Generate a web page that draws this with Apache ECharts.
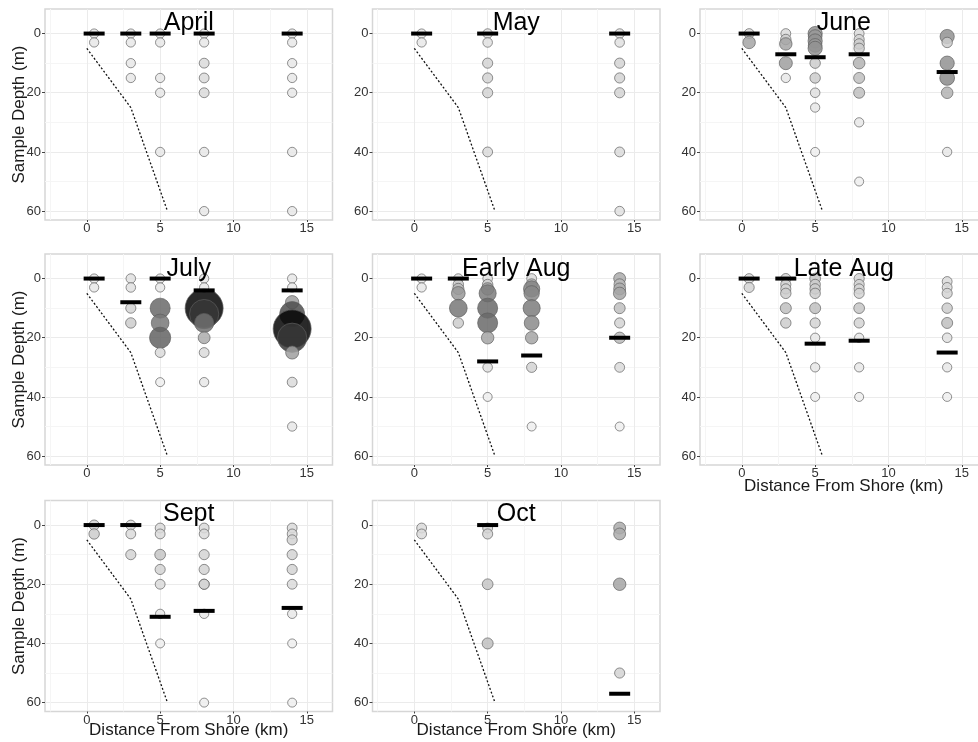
<!DOCTYPE html>
<html><head><meta charset="utf-8">
<script src="https://cdn.jsdelivr.net/npm/echarts@6/dist/echarts.min.js"></script>
<style>html,body{margin:0;padding:0;background:#fff}#c{width:978px;height:742px}</style>
</head><body><div id="c"></div>
<script>
// ---- data ----
const panelTitles = ['April','May','June','July','Early Aug','Late Aug','Sept','Oct'];
const xTicks = [0,5,10,15];
const yTicks = [0,20,40,60];
const xMinorTicks = [-2.5,2.5,7.5,12.5];
const yMinorTicks = [10,30,50];
const shoreX = [0,3,5.5];
const shoreDepth = [5,25,60];

// samples: [distance km, depth m, abundance]
const aprilSamples = [[0.5,0,1],[0.5,3,1],
  [3,0,1],[3,3,1],[3,10,1],[3,15,1],
  [5,0,1],[5,3,1],[5,15,1],[5,20,1],[5,40,1],
  [8,0,1],[8,3,1],[8,10,3],[8,15,3],[8,20,3],[8,40,1],[8,60,1],
  [14,0,1],[14,3,1],[14,10,1],[14,15,1],[14,20,1],[14,40,1],[14,60,1]];
const aprilBars = [[0.5,0],[3,0],[5,0],[8,0],[14,0]];

const maySamples = [[0.5,0,1],[0.5,3,1],
  [5,0,2],[5,3,2],[5,10,4],[5,15,4],[5,20,4],[5,40,3],
  [14,0,2],[14,3,2],[14,10,4],[14,15,4],[14,20,4],[14,40,3],[14,60,2]];
const mayBars = [[0.5,0],[5,0],[14,0]];

const juneSamples = [[0.5,0,3],[0.5,3,12],
  [3,0,3],[3,2,5],[3,3.5,12],[3,10,14],[3,15,1],
  [5,0,18],[5,1,16],[5,2.5,18],[5,4,16],[5,5,18],[5,10,5],[5,15,5],[5,20,2],[5,25,1],[5,40,0],
  [8,0,3],[8,2,4],[8,3.5,5],[8,5,5],[8,10,9],[8,15,7],[8,20,7],[8,30,1],[8,50,0],
  [14,1,18],[14,3,5],[14,10,18],[14,15,20],[14,20,9],[14,40,1]];
const juneBars = [[0.5,0],[3,7],[5,8],[8,7],[14,13]];

const julySamples = [[0.5,0,1],[0.5,3,1],
  [3,0,2],[3,3,2],[3,10,4],[3,15,5],
  [5,0,1],[5,3,1],[5,10,38],[5,15,30],[5,20,42],[5,25,3],[5,35,0],
  [8,0,1],[8,3,1],[8,10,100],[8,12,70],[8,15,35],[8,20,10],[8,25,3],[8,35,1],
  [14,0,1],[14,3,1],[14,8,15],[14,12,55],[14,17,100],[14,20,70],[14,25,14],[14,35,3],[14,50,1]];
const julyBars = [[0.5,0],[3,8],[5,0],[8,4],[14,4]];

const earlyAugSamples = [[0.5,0,1],[0.5,3,1],
  [3,0,2],[3,2,5],[3,3.5,8],[3,5,16],[3,10,30],[3,15,5],
  [5,0,2],[5,2,5],[5,3.5,12],[5,5,28],[5,10,38],[5,15,38],[5,20,12],[5,30,2],[5,40,0],
  [8,0,3],[8,2,8],[8,3.5,25],[8,5,22],[8,10,28],[8,15,20],[8,20,12],[8,30,4],[8,50,0],
  [14,0,10],[14,2,8],[14,3.5,10],[14,5,12],[14,10,7],[14,15,4],[14,20,8],[14,30,3],[14,50,0]];
const earlyAugBars = [[0.5,0],[3,0],[5,28],[8,26],[14,20]];

const lateAugSamples = [[0.5,0,3],[0.5,3,4],
  [3,0,4],[3,2,4],[3,3.5,4],[3,5,5],[3,10,7],[3,15,5],
  [5,0,6],[5,2,5],[5,3.5,5],[5,5,5],[5,10,7],[5,15,4],[5,20,1],[5,30,1],[5,40,0],
  [8,0,4],[8,2,4],[8,3.5,4],[8,5,4],[8,10,6],[8,15,4],[8,20,1],[8,30,1],[8,40,0],
  [14,1,3],[14,3,3],[14,5,4],[14,10,5],[14,15,7],[14,20,2],[14,30,1],[14,40,0]];
const lateAugBars = [[0.5,0],[3,0],[5,22],[8,21],[14,25]];

const septSamples = [[0.5,0,4],[0.5,3,5],
  [3,0,3],[3,3,3],[3,10,4],
  [5,1,3],[5,3,3],[5,10,6],[5,15,4],[5,20,3],[5,30,1],[5,40,0],
  [8,1,3],[8,3,3],[8,10,4],[8,15,4],[8,20,4],[8,20,4],[8,30,1],[8,60,0],
  [14,1,3],[14,3,3],[14,5,4],[14,10,4],[14,15,4],[14,20,3],[14,30,1],[14,40,0],[14,60,0]];
const septBars = [[0.5,0],[3,0],[5,31],[8,29],[14,28]];

const octSamples = [[0.5,1,3],[0.5,3,3],
  [5,1,3],[5,3,4],[5,20,6],[5,40,7],
  [14,1,10],[14,3,10],[14,20,12],[14,50,4]];
const octBars = [[5,0],[14,57]];

const panelSamples = [aprilSamples, maySamples, juneSamples, julySamples, earlyAugSamples, lateAugSamples, septSamples, octSamples];
const panelBars = [aprilBars, mayBars, juneBars, julyBars, earlyAugBars, lateAugBars, septBars, octBars];

// ---- layout / style ----
const FONT = '"Liberation Sans", Arial, Helvetica, sans-serif';
const colLeft = [45, 372.5, 700];
const rowTop = [9, 254, 500.5];
const W = 287.5, H = 211;
const XMIN = -2.85, XMAX = 16.75, YMIN = -8.3, YMAX = 63;
const yNamePanels = [0, 3, 6];
const xNamePanels = [5, 6, 7];

const grids = [], xAxes = [], yAxes = [], series = [], graphics = [], sampleSeriesIdx = [];
const minorX = [], minorY = [];

panelTitles.forEach((title, i) => {
  const col = i % 3, row = Math.floor(i / 3);
  grids.push({left: colLeft[col], top: rowTop[row], width: W, height: H, show: true,
    borderColor: '#d6d6d6', borderWidth: 1.5, backgroundColor: '#fff',
    outerBoundsMode: 'none', containLabel: false});
  xAxes.push({gridIndex: i, type: 'value', min: XMIN, max: XMAX, position: 'bottom',
    axisLine: {show: false, onZero: false},
    axisTick: {show: true, length: 2, lineStyle: {color: '#444'}, customValues: xTicks},
    axisLabel: {customValues: xTicks, color: '#333', fontSize: 13, fontFamily: FONT, margin: 2},
    splitLine: {show: true, lineStyle: {color: '#ebebeb', width: 1}},
    name: xNamePanels.includes(i) ? 'Distance From Shore (km)' : '',
    nameLocation: 'middle', nameGap: row === 1 ? 12.5 : 10.5, nameMoveOverlap: false,
    nameTextStyle: {fontSize: 17, color: '#1a1a1a', fontFamily: FONT}});
  yAxes.push({gridIndex: i, type: 'value', inverse: true, min: YMIN, max: YMAX, position: 'left',
    axisLine: {show: false, onZero: false},
    axisTick: {show: true, length: 3, lineStyle: {color: '#444'}, customValues: yTicks},
    axisLabel: {customValues: yTicks, color: '#333', fontSize: 13, fontFamily: FONT, margin: 4},
    splitLine: {show: true, lineStyle: {color: '#ebebeb', width: 1}},
    name: yNamePanels.includes(i) ? 'Sample Depth (m)' : '',
    nameLocation: 'middle', nameGap: 17, nameMoveOverlap: false,
    nameTextStyle: {fontSize: 17, color: '#1a1a1a', fontFamily: FONT}});
  minorX.push({gridIndex: i, type: 'value', min: XMIN, max: XMAX, position: 'bottom',
    axisLine: {show: false, onZero: false}, axisTick: {show: false, customValues: xMinorTicks},
    axisLabel: {show: false, customValues: xMinorTicks},
    splitLine: {show: true, lineStyle: {color: '#f5f5f5', width: 1}}});
  minorY.push({gridIndex: i, type: 'value', inverse: true, min: YMIN, max: YMAX, position: 'left',
    axisLine: {show: false, onZero: false}, axisTick: {show: false, customValues: yMinorTicks},
    axisLabel: {show: false, customValues: yMinorTicks},
    splitLine: {show: true, lineStyle: {color: '#f5f5f5', width: 1}}});

  series.push({type: 'line', xAxisIndex: i, yAxisIndex: i,
    data: shoreX.map((x, k) => [x, shoreDepth[k]]), symbol: 'none', silent: true,
    lineStyle: {color: '#111', width: 1.3, type: [2, 2]}, z: 2});
  sampleSeriesIdx.push(series.length);
  series.push({type: 'scatter', xAxisIndex: i, yAxisIndex: i, data: panelSamples[i],
    itemStyle: {opacity: 0.85, borderColor: '#5e5e5e', borderWidth: 0.8}, z: 3, silent: true});
  series.push({type: 'scatter', xAxisIndex: i, yAxisIndex: i, data: panelBars[i],
    symbol: 'rect', symbolSize: [21, 4], itemStyle: {color: '#000', opacity: 1}, z: 4, silent: true});

  graphics.push({type: 'text', x: colLeft[col] + W / 2, y: [23, 269, 514.5][row], z: 100,
    style: {text: title, font: '25px ' + FONT, fill: '#000',
      align: 'center', verticalAlign: 'middle', textAlign: 'center', textVerticalAlign: 'middle'}});
});

const chart = echarts.init(document.getElementById('c'), null, {renderer: 'canvas'});
chart.setOption({
  animation: false,
  backgroundColor: '#fff',
  grid: grids,
  xAxis: xAxes.concat(minorX),
  yAxis: yAxes.concat(minorY),
  visualMap: {type: 'continuous', show: false, dimension: 2, min: 0, max: 100,
    seriesIndex: sampleSeriesIdx,
    inRange: {symbolSize: [9, 38],
      color: ['#eeeeee','#acacac','#8b8b8b','#787878','#666666','#555555','#474747','#373737','#262626','#141414','#050505']}},
  series: series,
  graphic: graphics
});
</script></body></html>
